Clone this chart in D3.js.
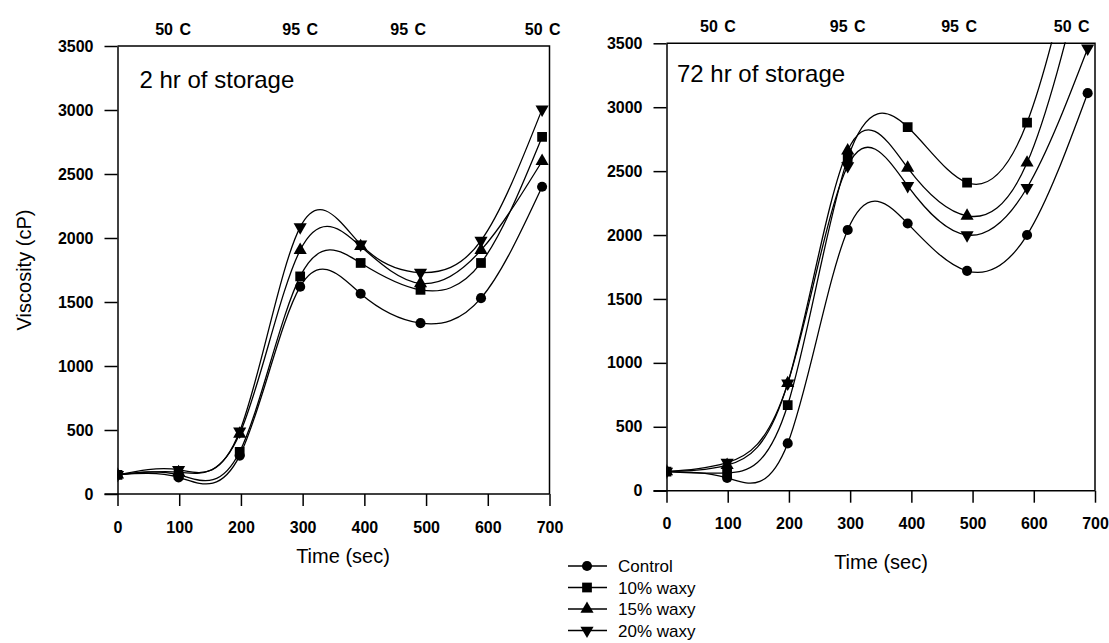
<!DOCTYPE html>
<meta charset="utf-8">
<script src="https://d3js.org/d3.v7.min.js"></script>
<style>
body { margin: 0; background: #fff; }
text { font-family: "Liberation Sans", Arial, sans-serif; fill: #000; }
.tick text { font-size: 16px; font-weight: bold; }
.axis path, .axis line { stroke: #000; stroke-width: 1.5; }
</style>
<div id="chart"></div>
<script>
// sample times (sec)
var times = [0, 99, 198, 296, 394, 491, 589, 688];
var seriesNames = ["Control", "10% waxy", "15% waxy", "20% waxy"];

// 2 hr of storage
var control2 = [150, 130, 300, 1620, 1565, 1335, 1530, 2400];
var waxy10_2 = [150, 150, 330, 1700, 1805, 1595, 1805, 2790];
var waxy15_2 = [150, 170, 470, 1905, 1935, 1645, 1905, 2600];
var waxy20_2 = [150, 190, 490, 2085, 1950, 1730, 1980, 3005];

// 72 hr of storage
var control72 = [150, 100, 370, 2040, 2090, 1720, 2000, 3110];
var waxy10_72 = [150, 140, 670, 2600, 2845, 2410, 2880, 4700];
var waxy15_72 = [150, 200, 840, 2660, 2525, 2150, 2565, 4200];
var waxy20_72 = [150, 220, 840, 2540, 2385, 2000, 2370, 3460];

// temperature labels over the plots
var tempLabels = ["50 C", "95 C", "95 C", "50 C"];
var tempAt2 = [90, 296, 471, 689];
var tempAt72 = [84, 296, 478, 662];

var xTicks = [0, 100, 200, 300, 400, 500, 600, 700];
var yTicks = [0, 500, 1000, 1500, 2000, 2500, 3000, 3500];

var svg = d3.select("#chart").append("svg")
    .attr("width", 1109)
    .attr("height", 643);

svg.append("rect").attr("width", 1109).attr("height", 643).attr("fill", "#fff");

function markerPath(i) {
  if (i == 0) return d3.symbol().type(d3.symbolCircle).size(80)();
  if (i == 1) return d3.symbol().type(d3.symbolSquare).size(95)();
  return d3.symbol().type(d3.symbolTriangle).size(75)();
}

function drawPanel(p) {
  var x = d3.scaleLinear().domain([0, 700]).range([p.left, p.right]);
  var y = d3.scaleLinear().domain([0, 3500]).range([p.bottom, p.top]);

  var g = svg.append("g");

  // frame top + right
  g.append("path")
    .attr("d", "M" + p.left + "," + p.top + "H" + p.right + "V" + p.bottom)
    .attr("fill", "none").attr("stroke", "#000").attr("stroke-width", 1.5);

  g.append("g").attr("class", "axis")
    .attr("transform", "translate(0," + p.bottom + ")")
    .call(d3.axisBottom(x).tickValues(xTicks).tickFormat(d3.format("d"))
      .tickSize(12).tickPadding(p.xPad).tickSizeOuter(0))
    .call(function(a) { a.select(".domain").attr("d", "M" + (p.left - 13) + ",0H" + p.right); });

  g.append("g").attr("class", "axis")
    .attr("transform", "translate(" + p.left + ",0)")
    .call(d3.axisLeft(y).tickValues(yTicks).tickFormat(d3.format("d"))
      .tickSize(13).tickPadding(11).tickSizeOuter(0));

  // temperature labels
  g.selectAll(".temp").data(tempLabels).enter().append("text")
    .attr("x", function(d, i) { return x(p.tempAt[i]); })
    .attr("y", p.top - 11)
    .attr("text-anchor", "middle")
    .style("font-size", "16px").style("font-weight", "bold")
    .style("word-spacing", "2px")
    .text(function(d) { return d; });

  g.append("text")
    .attr("x", p.left + p.titleDx).attr("y", p.top + p.titleDy)
    .style("font-size", "24px")
    .text(p.title);

  g.append("text")
    .attr("x", p.xTitleX).attr("y", p.xTitleY)
    .attr("text-anchor", "middle")
    .style("font-size", "20px")
    .text("Time (sec)");

  var clipId = "clip" + p.id;
  svg.append("clipPath").attr("id", clipId)
    .append("rect")
    .attr("x", p.left).attr("y", p.top - 1)
    .attr("width", p.right - p.left + 8).attr("height", p.bottom - p.top + 1);

  var plot = g.append("g").attr("clip-path", "url(#" + clipId + ")");

  var line = d3.line()
    .x(function(d, i) { return x(times[i]); })
    .y(function(d) { return y(d); })
    .curve(d3.curveNatural);

  p.series.forEach(function(s, k) {
    plot.append("path")
      .attr("d", line(s))
      .attr("fill", "none").attr("stroke", "#000").attr("stroke-width", 1.3);
  });

  p.series.forEach(function(s, k) {
    plot.selectAll(".m" + k).data(s).enter().append("path")
      .attr("d", markerPath(k))
      .attr("transform", function(d, i) {
        return "translate(" + x(times[i]) + "," + y(d) + ")" + (k == 3 ? " rotate(180)" : "");
      })
      .attr("fill", "#000");
  });
}

drawPanel({
  id: 1, left: 117.5, right: 549.5, top: 46, bottom: 494, xPad: 16,
  title: "2 hr of storage", titleDx: 22, titleDy: 42,
  xTitleX: 343, xTitleY: 563,
  tempAt: tempAt2,
  series: [control2, waxy10_2, waxy15_2, waxy20_2]
});

drawPanel({
  id: 2, left: 666.5, right: 1095, top: 43.3, bottom: 490.7, xPad: 15,
  title: "72 hr of storage", titleDx: 10.5, titleDy: 38.5,
  xTitleX: 881, xTitleY: 569,
  tempAt: tempAt72,
  series: [control72, waxy10_72, waxy15_72, waxy20_72]
});

// y axis title
svg.append("text")
  .attr("transform", "translate(31,270) rotate(-90)")
  .attr("text-anchor", "middle")
  .style("font-size", "20px")
  .text("Viscosity (cP)");

// legend
var legend = svg.append("g");
seriesNames.forEach(function(name, k) {
  var cy = 566 + k * 21.5;
  legend.append("line")
    .attr("x1", 568).attr("x2", 607).attr("y1", cy).attr("y2", cy)
    .attr("stroke", "#000").attr("stroke-width", 1.5);
  legend.append("path")
    .attr("d", markerPath(k))
    .attr("transform", "translate(587," + cy + ")" + (k == 3 ? " rotate(180)" : ""))
    .attr("fill", "#000");
  legend.append("text")
    .attr("x", 618).attr("y", cy + 6)
    .style("font-size", "17px")
    .text(name);
});
</script>
